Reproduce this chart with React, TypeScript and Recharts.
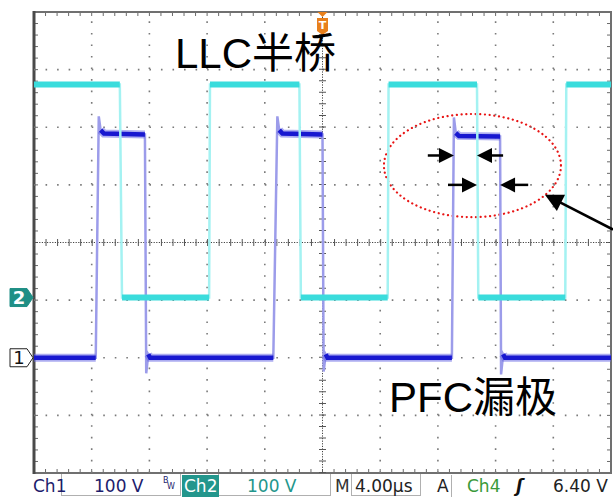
import { ComposedChart, Line, XAxis, YAxis, ReferenceLine, ReferenceArea, ReferenceDot } from "recharts";

// scope settings: 4 µs/div over 10 div, 8 vertical div
const xDomain = [-20, 20];
const yDomain = [-4, 4];
const majorX = [-16, -12, -8, -4, 4, 8, 12, 16];
const majorY = [-3, -2, -1, 1, 2, 3];

// Ch2 (LLC half bridge), in divisions
const ch2Time = [-20, -14.05, -13.9, -7.86, -7.8, -1.6, -1.5, 4.52, 4.58, 10.71, 10.8, 16.83, 16.9, 20];
const ch2Level = [2.74, 2.74, -0.955, -0.955, 2.74, 2.74, -0.955, -0.955, 2.74, 2.74, -0.955, -0.955, 2.74, 2.74];
const ch2Ground = -0.955;

// Ch1 (PFC drain), in divisions
const ch1Time = [
  -20, -15.72, -15.51, -15.38, -15.15, -12.31, -12.22, -12.08, -11.95,
  -3.41, -3.13, -3.0, -2.78, 0, 0.08, 0.22, 0.35,
  8.97, 9.11, 9.24, 9.46, 12.31, 12.38, 12.52, 12.65,
  20,
];
const ch1Level = [
  -2.0, -2.0, 2.19, 1.95, 1.89, 1.875, -2.27, -1.94, -2.0,
  -2.0, 2.19, 1.95, 1.89, 1.875, -2.24, -1.94, -2.0,
  -2.0, 2.17, 1.9, 1.85, 1.84, -2.29, -1.94, -2.0,
  -2.0,
];
const ch1Ground = -2.0;

// annotations (time µs, div)
const ellipseBox = { x1: 4.26, x2: 16.53, y1: 0.44, y2: 2.23 };
const shortArrows = [
  { from: [7.3, 1.51], to: [9.11, 1.51] },
  { from: [12.52, 1.51], to: [10.71, 1.51] },
  { from: [8.7, 1.0], to: [10.71, 1.0] },
  { from: [14.26, 1.0], to: [12.31, 1.0] },
];
const longArrow = { from: [20.14, 0.226], to: [15.42, 0.83] };

const toPoints = (ts: number[], vs: number[]) => ts.map((t, i) => ({ t, v: vs[i] }));
// slow parts only: break the path on fast edges, spikes and undershoots
const flatOnly = (ts: number[], vs: number[]) => {
  const out: { t: number; v: number | null }[] = [];
  ts.forEach((t, i) => {
    out.push({ t, v: vs[i] });
    if (i < ts.length - 1) {
      const slope = Math.abs(vs[i + 1] - vs[i]) / (ts[i + 1] - t);
      if (slope > 1.5) out.push({ t: (t + ts[i + 1]) / 2, v: null });
    }
  });
  return out;
};

const arrowShape = (head: number, half: number, w: number) => (p: any) => {
  const { x1, y1, x2, y2 } = p;
  const dx = x2 - x1;
  const dy = y2 - y1;
  const len = Math.hypot(dx, dy) || 1;
  const ux = dx / len;
  const uy = dy / len;
  const bx = x2 - ux * head;
  const by = y2 - uy * head;
  const px = -uy * half;
  const py = ux * half;
  return (
    <g>
      <line x1={x1} y1={y1} x2={bx + ux} y2={by + uy} stroke="#000" strokeWidth={w} />
      <polygon points={`${x2},${y2} ${bx + px},${by + py} ${bx - px},${by - py}`} fill="#000" />
    </g>
  );
};

// graticule frame with minor ticks (5 per division)
const frameShape = (p: any) => {
  const { x, y, width, height } = p;
  const ticks = [];
  for (let i = 1; i < 50; i++) {
    const tx = x + (i * width) / 50;
    ticks.push(<line key={"t" + i} x1={tx} y1={y} x2={tx} y2={y + 4} />);
    ticks.push(<line key={"b" + i} x1={tx} y1={y + height} x2={tx} y2={y + height - 4} />);
  }
  for (let j = 1; j < 40; j++) {
    const ty = y + (j * height) / 40;
    ticks.push(<line key={"l" + j} x1={x} y1={ty} x2={x + 4} y2={ty} />);
    ticks.push(<line key={"r" + j} x1={x + width} y1={ty} x2={x + width - 4} y2={ty} />);
  }
  return (
    <g>
      <g stroke="#6a6a6a" strokeWidth={1}>{ticks}</g>
      <rect x={x} y={y} width={width} height={height} fill="none" stroke="#707070" strokeWidth={2} />
      <line x1={x} y1={y - 1} x2={x} y2={y + height + 1} stroke="#4a4a4a" strokeWidth={3} />
    </g>
  );
};

const channelTag = (label: string, fill: string, ink: string, bold: boolean) => (p: any) => {
  const { cx, cy } = p;
  const l = cx - 24;
  const pts = `${l},${cy - 9} ${cx - 7},${cy - 9} ${cx - 1},${cy} ${cx - 7},${cy + 9} ${l},${cy + 9}`;
  return (
    <g>
      <polygon points={pts} fill={fill} stroke={bold ? fill : "#222"} strokeWidth={1} />
      <text x={cx - 15} y={cy + 6.5} textAnchor="middle" fontSize={18} fontWeight={bold ? 700 : 400} fill={ink} fontFamily="DejaVu Sans, sans-serif">
        {label}
      </text>
    </g>
  );
};

const triggerTag = (p: any) => {
  const { cx, cy } = p;
  return (
    <g>
      <polygon points={`${cx - 5},${cy} ${cx + 5},${cy} ${cx},${cy + 5}`} fill="#e8801c" />
      <path d={`M${cx - 5.5},${cy + 6} H${cx + 5.5} V${cy + 19} L${cx},${cy + 23} L${cx - 5.5},${cy + 19} Z`} fill="#e8801c" />
      <text x={cx} y={cy + 17} textAnchor="middle" fontSize={11} fontWeight={700} fill="#fff" fontFamily="DejaVu Sans, sans-serif">
        T
      </text>
    </g>
  );
};

const ellipseShape = (p: any) => {
  const { x, y, width, height } = p;
  return (
    <ellipse cx={x + width / 2} cy={y + height / 2} rx={width / 2} ry={height / 2} fill="none" stroke="#e81414" strokeWidth={2.2} strokeDasharray="0.1 4.6" strokeLinecap="round" />
  );
};

const statusFont = "'DejaVu Sans', sans-serif";
const txt = (left: number, color: string, s: string, extra: any = {}) => (
  <span style={{ position: "absolute", left, top: 476, fontSize: 17, lineHeight: "21px", color, fontFamily: statusFont, whiteSpace: "pre", ...extra }}>{s}</span>
);
const box = (left: number, width: number) => (
  <div style={{ position: "absolute", left, top: 474, width, height: 22, border: "1px solid #b0b0b0", borderTop: "none", boxSizing: "border-box" }} />
);

export default function App() {
  const ch1All = toPoints(ch1Time, ch1Level);
  const ch1Flat = flatOnly(ch1Time, ch1Level);
  const ch2All = toPoints(ch2Time, ch2Level);
  const ch2Flat = flatOnly(ch2Time, ch2Level);
  const grid = { stroke: "#7a7a7a", strokeWidth: 1.6, strokeDasharray: "1.6 9.94" };
  const labelFont = "'Liberation Sans', 'Noto Sans CJK SC', sans-serif";

  return (
    <div style={{ position: "absolute", left: 0, top: 0, width: 613, height: 497, background: "#fff", overflow: "hidden" }}>
      <ComposedChart width={613} height={497} margin={{ top: 12, left: 34, right: 2, bottom: 24 }}>
        <XAxis dataKey="t" type="number" domain={xDomain} allowDataOverflow hide />
        <YAxis type="number" domain={yDomain} allowDataOverflow hide />

        {majorX.map((x) => (
          <ReferenceLine key={"gx" + x} x={x} {...grid} />
        ))}
        {majorY.map((y) => (
          <ReferenceLine key={"gy" + y} y={y} {...grid} />
        ))}
        <ReferenceLine x={0} stroke="#444" strokeWidth={1} strokeDasharray="1.2 1.4" />
        <ReferenceLine y={0} stroke="#444" strokeWidth={1} strokeDasharray="1.2 1.4" />
        <ReferenceLine x={0} stroke="#555" strokeWidth={7} strokeDasharray="1 10.52" />
        <ReferenceLine y={0} stroke="#555" strokeWidth={7} strokeDasharray="1 10.54" />
        <ReferenceArea x1={xDomain[0]} x2={xDomain[1]} y1={yDomain[0]} y2={yDomain[1]} shape={frameShape} ifOverflow="visible" />

        <Line data={ch1All} dataKey="v" stroke="#9c9cea" strokeWidth={2.5} dot={false} isAnimationActive={false} />
        <Line data={ch1Flat} dataKey="v" stroke="#6a6ae4" strokeWidth={8} strokeOpacity={0.55} dot={false} isAnimationActive={false} />
        <Line data={ch1Flat} dataKey="v" stroke="#1818d0" strokeWidth={4.5} dot={false} isAnimationActive={false} />
        <Line data={ch2All} dataKey="v" stroke="#a4f2f2" strokeWidth={2.5} dot={false} isAnimationActive={false} />
        <Line data={ch2Flat} dataKey="v" stroke="#3adcdc" strokeWidth={6} dot={false} isAnimationActive={false} />

        <ReferenceArea x1={ellipseBox.x1} x2={ellipseBox.x2} y1={ellipseBox.y1} y2={ellipseBox.y2} shape={ellipseShape} ifOverflow="visible" />
        {shortArrows.map((a, i) => (
          <ReferenceLine key={"a" + i} segment={[{ x: a.from[0], y: a.from[1] }, { x: a.to[0], y: a.to[1] }]} shape={arrowShape(15, 7.5, 2.5)} ifOverflow="visible" />
        ))}
        <ReferenceLine segment={[{ x: longArrow.from[0], y: longArrow.from[1] }, { x: longArrow.to[0], y: longArrow.to[1] }]} shape={arrowShape(18, 9, 2.6)} ifOverflow="visible" />

        <ReferenceDot x={-20} y={ch2Ground} r={0} ifOverflow="visible" shape={channelTag("2", "#1f8f86", "#fff", true)} />
        <ReferenceDot x={-20} y={ch1Ground} r={0} ifOverflow="visible" shape={channelTag("1", "#fff", "#111", false)} />
        <ReferenceDot x={0} y={4} r={0} ifOverflow="visible" shape={triggerTag} />
      </ComposedChart>

      <div style={{ position: "absolute", left: 175, top: 39, fontSize: 42, lineHeight: "30px", color: "#000", fontFamily: labelFont, whiteSpace: "nowrap" }}>LLC半桥</div>
      <div style={{ position: "absolute", left: 389, top: 383, fontSize: 42, lineHeight: "30px", color: "#000", fontFamily: labelFont, whiteSpace: "nowrap" }}>PFC漏极</div>

      {box(61, 120)}
      {box(218, 113)}
      {box(351, 70)}
      {txt(33, "#1c1c6c", "Ch1")}
      {txt(94, "#1c1c6c", "100 V")}
      <span style={{ position: "absolute", left: 163, top: 477, fontSize: 8, lineHeight: "8px", color: "#1c1c6c", fontFamily: statusFont }}>B</span>
      <span style={{ position: "absolute", left: 167, top: 483, fontSize: 8, lineHeight: "8px", color: "#1c1c6c", fontFamily: statusFont }}>W</span>
      <div style={{ position: "absolute", left: 182, top: 475, width: 37, height: 22, background: "#23968c" }} />
      {txt(184, "#fff", "Ch2")}
      {txt(247, "#23968c", "100 V")}
      {txt(335, "#333", "M")}
      {txt(355, "#222", "4.00µs")}
      {txt(437, "#222", "A")}
      <div style={{ position: "absolute", left: 451, top: 475, width: 1, height: 22, background: "#b0b0b0" }} />
      {txt(467, "#3a9a3a", "Ch4")}
      {txt(516, "#111", "ʃ", { fontWeight: 700, fontStyle: "italic" })}
      {txt(553, "#222", "6.40 V")}
    </div>
  );
}
